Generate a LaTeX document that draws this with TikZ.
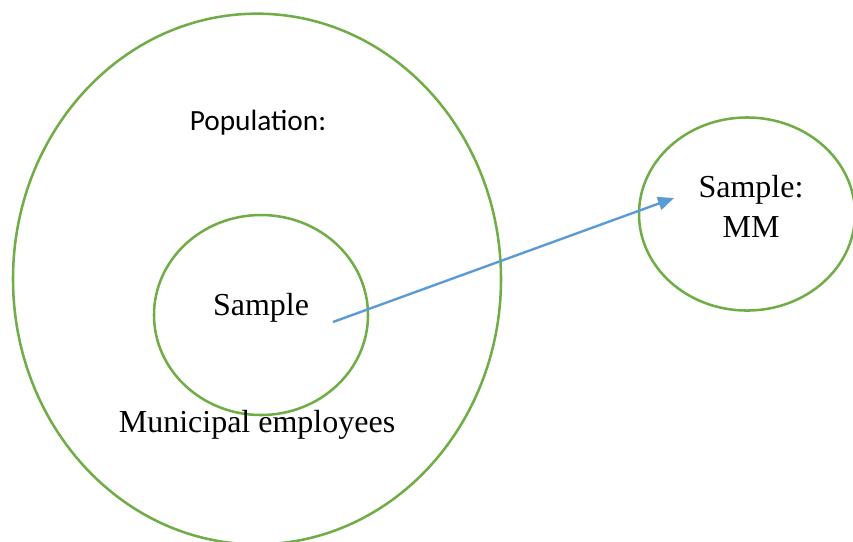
\documentclass[tikz,border=0pt]{standalone}
\usepackage{fontspec}
\setmainfont{Liberation Serif}
\newfontfamily\calib{Carlito}
\usetikzlibrary{shapes.geometric,arrows.meta}
\definecolor{cgreen}{HTML}{70AD47}
\definecolor{cblue}{HTML}{5B9BD5}
\tikzset{
  ring/.style={ellipse,draw=cgreen,line width=0.95pt,inner sep=0pt,outer sep=0pt},
  lbl/.style={inner sep=0pt,font=\fontsize{12}{14.4}\selectfont},
  conn/.style={draw=cblue,line width=0.9pt,-{Triangle[length=6pt,width=5pt]}}
}
\begin{document}
\begin{tikzpicture}[x=0.375pt,y=-0.375pt]
\useasboundingbox (0,0) rectangle (853,541);
\clip (0,0) rectangle (853,541);
\node[ring,minimum width=183pt,minimum height=199pt] (pop) at (257,279) {};
\node[ring,minimum width=80.25pt,minimum height=75pt] (samp) at (261,315) {};
\node[ring,minimum width=81pt,minimum height=72.4pt] (mm) at (747,214) {};
\node[inner sep=0pt,font=\calib\fontsize{11}{13}\selectfont] (poplbl) at (258,123) {Population:};
\node[lbl] (samplbl) at (261,308) {Sample};
\node[lbl] (munlbl) at (257,425) {Municipal employees};
\node[lbl,align=center,font=\fontsize{12}{15}\selectfont] (mmlbl) at (751,206) {Sample:\\MM};
\coordinate (a) at (333,322);
\coordinate (b) at (674,198);
\draw[conn] (a) -- (b);
\end{tikzpicture}
\end{document}
